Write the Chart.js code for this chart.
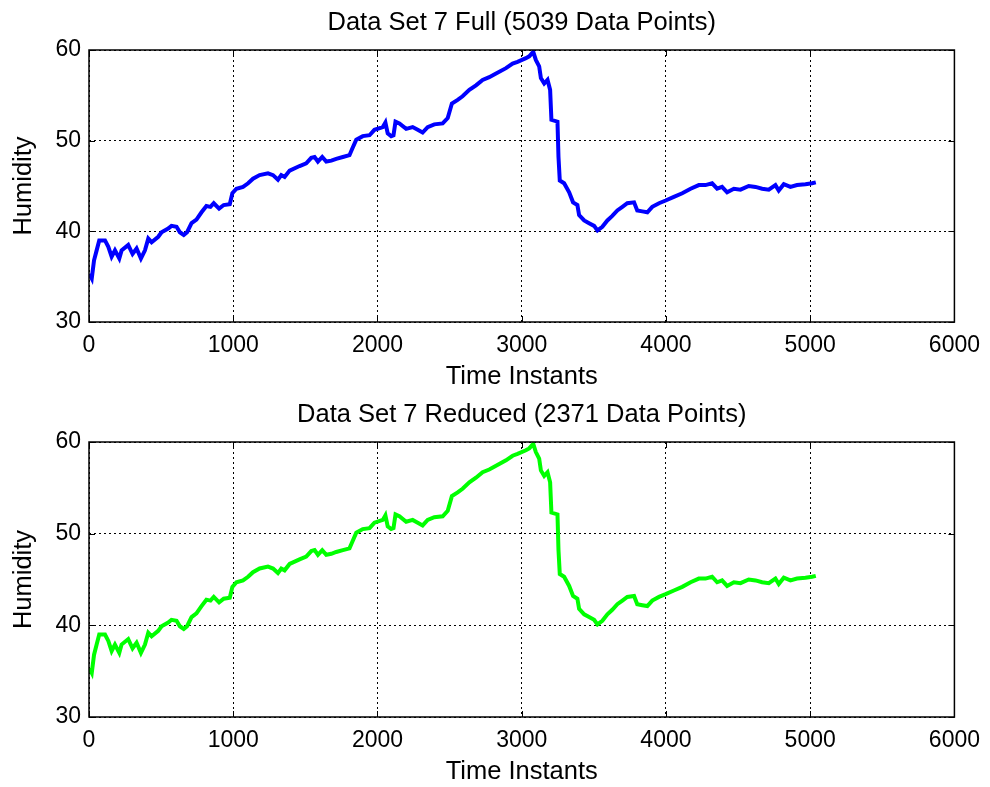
<!DOCTYPE html>
<html>
<head>
<meta charset="utf-8">
<script src="https://cdn.jsdelivr.net/npm/chart.js@4.4.1/dist/chart.umd.min.js"></script>
<style>
  html, body { margin: 0; padding: 0; background: #fff; }
  .panel { position: absolute; left: 0; width: 990px; }
  #top { top: 0; height: 392px; }
  #bottom { top: 392px; height: 395px; }
</style>
</head>
<body>
<div class="panel" id="top"><canvas id="fullChart"></canvas></div>
<div class="panel" id="bottom"><canvas id="reducedChart"></canvas></div>
<script>
// Humidity readings, data set 7 (time instant, humidity)
const timeInstants = [2, 19, 35, 53, 71, 111, 134, 157, 180, 210, 226, 272, 302, 330, 360, 388, 411, 434, 480, 503,
  549, 572, 607, 630, 657, 680, 711, 745, 780, 814, 842, 865, 902, 934, 976, 994, 1022, 1068, 1103, 1137,
  1183, 1241, 1276, 1310, 1333, 1356, 1391, 1460, 1506, 1541, 1564, 1587, 1617, 1645, 1680, 1714, 1760, 1806, 1825, 1853,
  1898, 1945, 1979, 2037, 2055, 2071, 2095, 2111, 2125, 2152, 2199, 2244, 2279, 2313, 2348, 2394, 2452, 2487, 2516, 2556,
  2590, 2637, 2683, 2729, 2775, 2822, 2891, 2937, 2971, 3029, 3052, 3080, 3098, 3121, 3133, 3156, 3179, 3197, 3206, 3248,
  3255, 3264, 3294, 3329, 3356, 3386, 3398, 3433, 3467, 3502, 3525, 3559, 3594, 3628, 3663, 3698, 3732, 3779, 3801, 3836,
  3871, 3905, 3952, 3998, 4055, 4113, 4171, 4228, 4274, 4320, 4355, 4389, 4424, 4471, 4517, 4574, 4621, 4667, 4713, 4759,
  4782, 4817, 4863, 4909, 4967, 5013, 5039];
const humidityFull = [35.3, 34.8, 36.8, 37.9, 39.0, 39.0, 38.3, 37.2, 37.9, 37.0, 37.9, 38.5, 37.5, 38.1, 37.0, 37.9, 39.2, 38.8, 39.4, 39.9,
  40.3, 40.6, 40.5, 39.9, 39.6, 39.9, 40.9, 41.3, 42.1, 42.8, 42.7, 43.1, 42.5, 42.9, 43.0, 44.2, 44.7, 44.9, 45.3, 45.8,
  46.2, 46.4, 46.2, 45.7, 46.2, 46.0, 46.7, 47.2, 47.5, 48.1, 48.2, 47.7, 48.2, 47.7, 47.8, 48.0, 48.2, 48.4, 49.1, 50.1,
  50.5, 50.6, 51.2, 51.5, 52.0, 50.8, 50.5, 50.6, 52.1, 51.9, 51.3, 51.5, 51.2, 50.9, 51.5, 51.8, 51.9, 52.5, 54.1, 54.5,
  54.9, 55.6, 56.1, 56.7, 57.0, 57.4, 58.0, 58.5, 58.7, 59.1, 59.3, 59.8, 58.9, 58.2, 56.9, 56.3, 56.7, 55.6, 52.3, 52.1,
  48.2, 45.6, 45.3, 44.3, 43.2, 42.9, 41.8, 41.2, 40.9, 40.6, 40.1, 40.5, 41.2, 41.7, 42.3, 42.7, 43.1, 43.2, 42.3, 42.2,
  42.1, 42.7, 43.1, 43.4, 43.8, 44.2, 44.7, 45.1, 45.1, 45.3, 44.7, 44.9, 44.3, 44.7, 44.6, 45.0, 44.9, 44.7, 44.6, 45.1,
  44.5, 45.2, 44.9, 45.1, 45.2, 45.3, 45.4];
// the reduced set follows the same trace
const humidityReduced = humidityFull.slice();

const xTicks = [0, 1000, 2000, 3000, 4000, 5000, 6000];
const yTicks = [30, 40, 50, 60];

const FAMILY = 'Arial, "Liberation Sans", Helvetica, sans-serif';
const TICK_FONT = { family: FAMILY, size: 23 };
const LABEL_FONT = { family: FAMILY, size: 25.5 };

// MATLAB-like axes box: full frame plus short inward ticks on all four sides,
// and the title centred over the plot area rather than the canvas
const boxPlugin = {
  id: 'axesBox',
  afterDraw(chart) {
    const { ctx, chartArea: a, scales } = chart;
    const len = 6;
    ctx.save();
    ctx.strokeStyle = '#000';
    ctx.lineWidth = 1;
    ctx.setLineDash([]);
    ctx.beginPath();
    xTicks.forEach(v => {
      const px = Math.round(scales.x.getPixelForValue(v)) + 0.5;
      ctx.moveTo(px, a.bottom); ctx.lineTo(px, a.bottom - len);
      ctx.moveTo(px, a.top); ctx.lineTo(px, a.top + len);
    });
    yTicks.forEach(v => {
      const py = Math.round(scales.y.getPixelForValue(v)) + 0.5;
      ctx.moveTo(a.left, py); ctx.lineTo(a.left + len, py);
      ctx.moveTo(a.right, py); ctx.lineTo(a.right - len, py);
    });
    ctx.stroke();
    ctx.lineWidth = 1.5;
    ctx.strokeRect(a.left, a.top, a.right - a.left, a.bottom - a.top);

    const title = chart.options.plugins.axesBox.title;
    ctx.fillStyle = '#000';
    ctx.font = `${LABEL_FONT.size}px ${FAMILY}`;
    ctx.textAlign = 'center';
    ctx.textBaseline = 'middle';
    ctx.fillText(title, (a.left + a.right) / 2, a.top - 27);
    ctx.restore();
  }
};

function makeChart(canvasId, title, values, color) {
  const points = timeInstants.map((t, i) => ({ x: t, y: values[i] }));
  return new Chart(document.getElementById(canvasId), {
    type: 'line',
    data: {
      datasets: [{
        data: points,
        borderColor: color,
        borderWidth: 4,
        pointRadius: 0,
        tension: 0,
        fill: false
      }]
    },
    options: {
      responsive: true,
      maintainAspectRatio: false,
      animation: false,
      layout: { padding: { left: 0, right: 34, top: 50, bottom: 0 } },
      plugins: {
        legend: { display: false },
        tooltip: { enabled: false },
        title: { display: false },
        axesBox: { title: title }
      },
      scales: {
        x: {
          type: 'linear',
          min: 0,
          max: 6000,
          afterBuildTicks: s => { s.ticks = xTicks.map(v => ({ value: v })); },
          afterFit: s => { s.height = 70; },
          grid: { color: '#000', lineWidth: 1, drawTicks: false },
          border: { display: false, dash: [2, 3] },
          ticks: { color: '#000', font: TICK_FONT, padding: 10, maxRotation: 0, callback: v => String(v) },
          title: { display: true, text: 'Time Instants', color: '#000', font: LABEL_FONT, padding: { top: 0, bottom: 0 } }
        },
        y: {
          min: 30,
          max: 60,
          afterBuildTicks: s => { s.ticks = yTicks.map(v => ({ value: v })); },
          afterFit: s => { s.width = 89; },
          grid: { color: '#000', lineWidth: 1, drawTicks: false },
          border: { display: false, dash: [2, 3] },
          ticks: { color: '#000', font: TICK_FONT, padding: 8, callback: v => String(v) },
          title: { display: true, text: 'Humidity', color: '#000', font: LABEL_FONT, padding: { top: 9, bottom: 0 } }
        }
      }
    },
    plugins: [boxPlugin]
  });
}

const fullChart = makeChart('fullChart', 'Data Set 7 Full (5039 Data Points)', humidityFull, '#0000ff');
const reducedChart = makeChart('reducedChart', 'Data Set 7 Reduced (2371 Data Points)', humidityReduced, '#00ff00');
</script>
</body>
</html>
